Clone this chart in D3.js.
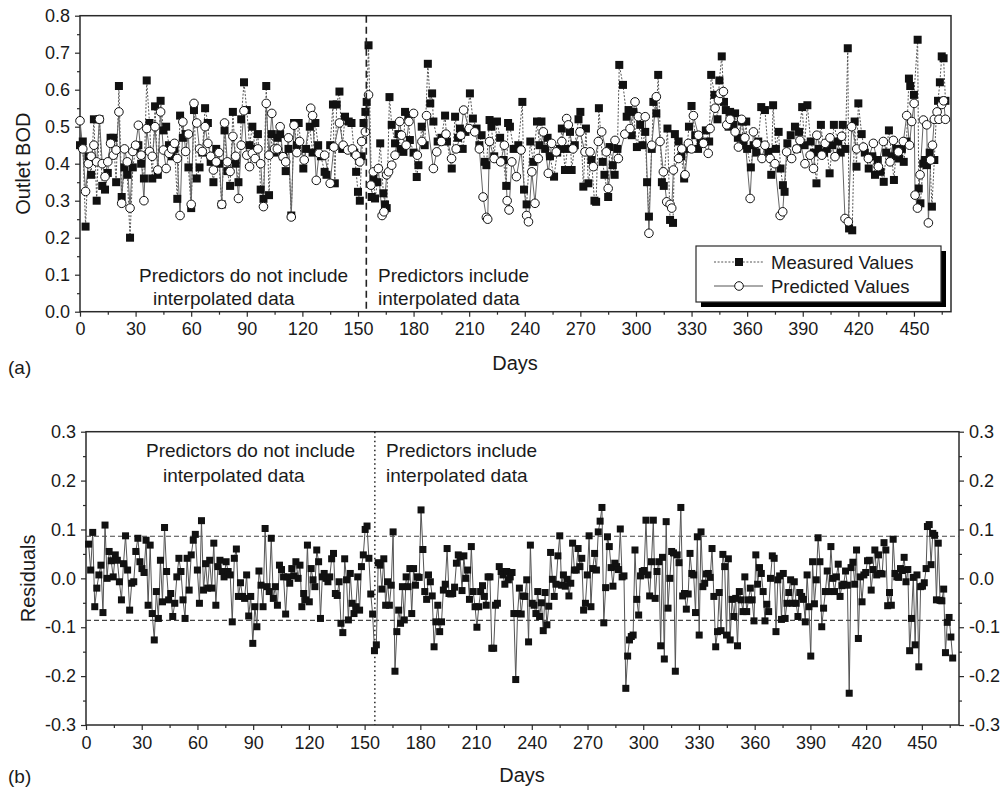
<!DOCTYPE html>
<html>
<head>
<meta charset="utf-8">
<script src="https://cdnjs.cloudflare.com/ajax/libs/d3/7.8.5/d3.min.js"></script>
<style>
  body { margin: 0; background: #fff; }
  text { font-family: "Liberation Sans", Arial, sans-serif; fill: #1a1a1a; }
</style>
</head>
<body>
<svg id="chart" width="1003" height="789"></svg>
<script>
// ---- data ----
// panel (a): [day, outlet BOD]
var measured = [[0,.45],[1.5,.46],[3,.23],[4.5,.42],[6,.37],[7.5,.52],[9,.30],[10.5,.52],[12,.34],[13.5,.33],[15,.375],[16.5,.47],[18,.47],[19.5,.35],[21,.61],[22.5,.31],[24,.39],[25.5,.37],[27,.20],[28.5,.39],[30,.44],[31.5,.45],[33,.40],[34.5,.36],[36,.625],[37.5,.51],[39,.36],[40.5,.555],[42,.37],[43.5,.57],[45,.49],[46.5,.50],[48,.45],[49.5,.42],[51,.44],[52.5,.305],[54,.53],[55.5,.47],[57,.48],[58.5,.39],[60,.28],[61.5,.545],[63,.36],[64.5,.39],[66,.43],[67.5,.55],[69,.51],[70.5,.405],[72,.35],[73.5,.44],[75,.40],[76.5,.29],[78,.49],[79.5,.38],[81,.34],[82.5,.54],[84,.40],[85.5,.35],[87,.52],[88.5,.62],[90,.545],[91.5,.45],[93,.50],[94.5,.44],[96,.48],[97.5,.33],[99,.305],[100.5,.61],[102,.315],[103.5,.48],[105,.43],[106.5,.47],[108,.48],[109.5,.42],[111,.38],[112.5,.44],[114,.26],[115.5,.51],[117,.45],
  [118,.51],[120.5,.387],[122,.44],[124,.50],[125.5,.43],[127,.51],[128.5,.45],[130,.42],[132,.378],[133,.37],[135,.45],[136.5,.56],[137.5,.347],[138.5,.56],[140,.595],[141.5,.44],[143,.527],[145,.514],[146.5,.51],[148,.43],[149,.378],[150,.324],[151,.30],[152,.42],[153,.51],[154,.54],[154.7,.567],[155.7,.72],[157.4,.31],[158.3,.36],[159.2,.306],[160.5,.35],[162,.455],[163.7,.32],[164.6,.29],[165.5,.28],[167,.58],[168.2,.505],[170,.455],[171.8,.48],[173,.44],[174.5,.432],[175.4,.54],[177.2,.53],[178,.464],[180,.43],[181.7,.364],[182.6,.396],[184.4,.50],[186,.45],[187.7,.67],[189,.563],[190,.59],[190.7,.514],[193,.46],[195,.47],[197,.53],[198,.46],[200.6,.387],[202.4,.527],[204,.47],[205,.495],[206.5,.44],[208,.486],[210.4,.59],[212,.522],[214,.495],[215.5,.45],[216.7,.477],[218.4,.405],[219.3,.396],[221,.518],[222,.50],[223.5,.42],[225,.514],[226.7,.47],[228.5,.41],
  [230,.34],[231,.51],[232,.50],[234,.44],[236.5,.45],[238.7,.567],[239.6,.33],[241,.29],[243,.46],[244.6,.405],[246.6,.514],[248,.45],[249,.514],[251,.44],[252.3,.47],[253.6,.42],[255.8,.365],[257.5,.43],[259,.44],[260,.495],[261.7,.383],[263,.44],[264.4,.486],[265.3,.383],[267,.45],[269,.52],[270,.54],[271.6,.338],[273,.495],[274.3,.347],[276,.41],[277.6,.30],[278.5,.297],[280,.55],[282,.405],[283,.37],[285,.31],[285.8,.445],[287.5,.396],[288.5,.37],[290,.44],[291,.667],[293,.613],[295,.527],[296,.545],[297.7,.477],[298.6,.54],[300.5,.445],[302.3,.505],[303.5,.45],[305,.486],[306,.35],[307,.257],[308.5,.44],[309.4,.567],[311,.536],[312,.64],[314,.35],[315,.34],[317,.495],[318.4,.248],[320,.24],[321,.48],[323,.46],[324.5,.42],[326,.36],[327.5,.44],[328.6,.50],[330,.556],[332,.477],[333.5,.44],[335,.46],[337.7,.49],[339.5,.46],[340.6,.64],[342.4,.586],[344,.52],
  [345,.625],[346.3,.69],[347.5,.567],[348.5,.545],[350,.50],[350.8,.54],[352.6,.505],[353.5,.536],[355,.47],[357,.514],[358,.45],[359.5,.514],[360,.44],[362,.39],[363.5,.45],[365,.43],[366,.46],[367.6,.553],[369.6,.545],[371.4,.432],[373,.37],[374,.558],[375.5,.44],[377,.486],[378,.387],[379.3,.342],[380.2,.324],[381.7,.455],[383.5,.477],[385.8,.50],[387,.44],[388,.486],[389.7,.553],[391,.45],[392.5,.558],[394.3,.46],[396,.43],[397.4,.347],[398.5,.44],[399.8,.505],[401.5,.43],[403,.44],[404.5,.374],[406,.45],[406.8,.505],[409,.46],[410.5,.43],[411.6,.505],[413,.44],[414.3,.712],[415,.225],[416.7,.22],[418,.514],[419,.392],[420,.563],[421.8,.48],[423.5,.43],[425.6,.387],[427.5,.42],[429,.37],[430.5,.41],[432,.378],[433.7,.351],[435,.43],[436.5,.49],[438,.42],[439.2,.356],[440.5,.44],[442,.414],[443.5,.44],[444.5,.405],[446,.46],[447.3,.63],[448,.61],[450,.586],[452,.735],[452.6,.333],[453.5,.293],[455,.40],[456,.41],[457,.396],[458.5,.43],[459.7,.284],[461,.41],[462,.52],[463,.57],[464,.62],[465,.69],[466,.685],[467,.57]];

var predicted = [[0,.516],[1.5,.44],[3,.325],[4.5,.40],[6,.42],[7.5,.45],[9,.405],[10.5,.52],[12,.40],[13.5,.365],[15,.405],[16.5,.455],[18,.423],[19.5,.437],[21,.54],[22.5,.293],[24,.44],[25.5,.405],[27,.28],[28.5,.433],[30,.45],[31.5,.504],[33,.423],[34.5,.30],[36,.495],[37.5,.433],[39,.42],[40.5,.50],[42,.383],[43.5,.54],[45,.437],[46.5,.387],[48,.428],[49.5,.44],[51,.455],[52.5,.414],[54,.26],[55.5,.513],[57,.433],[58.5,.48],[60,.29],[61.5,.563],[63,.51],[64.5,.44],[66,.433],[67.5,.50],[69,.455],[70.5,.42],[72,.383],[73.5,.405],[75,.43],[76.5,.29],[78,.51],[79.5,.405],[81,.379],[82.5,.474],[84,.42],[85.5,.306],[87,.45],[88.5,.543],[90,.423],[91.5,.392],[93,.428],[94.5,.414],[96,.44],[97.5,.40],[99,.284],[100.5,.563],[102,.423],[103.5,.536],[105,.44],[106.5,.44],[108,.50],[109.5,.419],[111,.405],[112.5,.47],[114,.256],[115.5,.504],[117,.43],
  [118.5,.46],[121,.41],[124.5,.55],[125.5,.53],[127.5,.355],[129,.428],[132,.423],[135,.347],[137,.445],[140,.51],[142,.45],[144.5,.437],[147,.44],[149,.423],[151,.405],[152,.46],[154,.486],[155.7,.586],[157,.342],[158.3,.378],[161,.387],[163,.26],[164,.27],[165.5,.37],[166.5,.378],[168.2,.396],[170,.423],[172.5,.514],[173.5,.477],[176,.45],[177.5,.514],[180,.536],[182,.423],[184.5,.46],[187,.53],[190.7,.387],[192.5,.432],[195,.46],[197.5,.48],[200.5,.414],[203,.44],[205.5,.477],[207,.545],[210,.495],[213,.486],[215.5,.44],[217.5,.31],[219.3,.255],[220,.25],[221,.46],[223.5,.414],[227,.405],[229,.45],
  [230.5,.30],[231.5,.275],[233,.405],[235.5,.365],[238,.437],[241,.26],[242,.243],[243.8,.378],[245.5,.293],[247.3,.414],[250,.486],[252.7,.374],[254.5,.455],[257,.432],[260,.46],[262.6,.522],[263.5,.505],[266,.44],[269.8,.486],[272.5,.432],[275.2,.432],[277,.392],[279.7,.46],[281.5,.486],[284,.432],[285,.333],[288.7,.463],[290.5,.414],[294,.48],[296.8,.495],[299.5,.567],[301.3,.527],[305,.527],[307,.212],[308.5,.45],[311,.581],[313,.46],[314.8,.378],[316.6,.297],[318.4,.29],[319.3,.28],[320.2,.383],[323,.414],[324.7,.44],[326.5,.37],[328.3,.455],[330,.44],[331,.53],[333.7,.477],[336.4,.455],[339,.428],[340,.495],[342.7,.55],[344.5,.572],
  [345.4,.59],[347.2,.595],[349,.505],[350.8,.52],[353.5,.486],[355.3,.445],[357,.52],[358.8,.47],[361.6,.306],[363.4,.486],[365.2,.455],[368,.414],[369.6,.45],[372.4,.414],[375,.40],[377.8,.26],[379.2,.27],[381.3,.432],[384,.414],[386.7,.44],[388.5,.463],[391.2,.40],[394,.423],[395.8,.387],[397.6,.477],[400.3,.423],[402.1,.455],[404.7,.47],[407.4,.419],[411,.474],[412.8,.252],[414.6,.243],[416.4,.50],[419.1,.44],[422.7,.445],[425.4,.414],[428.1,.455],[430.8,.392],[433.5,.46],[437.1,.405],[438.9,.463],[441.6,.432],[444.3,.46],[446.1,.53],[447.6,.45],[448.8,.514],[450.1,.563],[450.6,.315],[451.9,.28],[453.3,.37],[455.1,.518],[456.9,.505],[457.8,.24],[459,.41],[460,.45],[461,.52],[462.5,.54],[463.5,.52],[465,.56],[466,.57],[467,.52]];

// panel (b): residuals, one list per stretch of days
var residualSpans = [[1.4, 113], [114.2, 226.5], [227.4, 340], [340.9, 452.3], [453, 466.6]];
var residualParts = [
  [.070,.017,.094,-.058,-.020,.007,.027,-.070,.109,.000,.055,.036,.003,.048,.037,-.007,-.044,.030,.087,.017,-.065,-.010,-.007,.055,.082,.034,.020,.012,.078,-.055,.068,-.072,-.126,-.027,-.082,.037,-.048,.104,.014,-.044,-.031,-.078,-.051,.003,.041,.014,-.044,-.082,.041,-.024,.048,.078,.090,.017,-.051,.118,-.024,.030,-.020,.037,-.020,.072,-.055,.024,.037,.014,.003,.034,.014,.007,-.089,.041,.060,-.037,-.009,-.037,-.041,.007,-.077,-.037,-.133,-.058,-.099,.015,-.014,-.058,.102,-.017,-.027,.082,-.041,-.017,-.055,.027,.018,.003,-.073,.003,-.010,.020,.005,.034],
  [.000,.027,-.058,-.031,-.044,.068,-.048,.020,-.003,-.017,.058,.034,-.082,.003,.010,.000,-.007,.003,.040,.051,-.031,-.035,-.007,-.092,-.111,.040,-.003,-.085,.010,-.051,-.072,-.058,.003,-.065,.024,.048,.100,.107,.041,-.032,-.073,-.148,-.136,.032,.027,-.022,.040,-.055,-.007,-.055,-.014,.095,-.190,-.109,-.065,-.092,-.017,-.085,.003,-.017,.020,-.072,.020,-.014,.003,.002,.140,.059,-.027,-.043,.007,-.007,-.036,-.140,-.089,-.055,-.109,-.089,-.024,-.012,.061,-.031,-.032,-.031,-.018,.031,.048,.044,-.025,.046,.000,.017,-.043,.065,-.027,-.058,-.100,-.058,-.027,-.015,-.037,-.055,.003,.003,-.143,-.143,-.055,-.051,.024,.014,.007,-.012,.014],
  [-.003,.003,.012,-.072,-.207,-.072,-.020,-.073,-.036,-.037,-.003,-.130,.068,-.051,-.055,-.072,-.027,-.078,-.050,-.107,-.029,-.095,-.057,.053,-.002,-.037,-.012,.046,.087,-.014,.007,-.016,-.002,-.036,-.010,.072,.017,.017,.061,.024,.041,-.065,-.051,.007,.087,-.058,.020,.051,.017,.095,.117,.145,-.091,-.019,.085,.065,.022,-.016,.031,.024,.018,.101,.003,.005,-.225,-.159,-.126,-.119,-.116,.058,-.043,-.075,.005,.014,.016,.119,.007,-.036,.034,.119,-.041,.014,.034,-.138,.043,-.165,.116,-.061,.000,.055,.052,-.190,.048,.032,.145,-.036,-.031,-.063,-.032,.051,.010,.007,-.070,.085,-.116,.095,-.017,-.010,.009,.010,.002,.061,-.037,-.140,-.109],
  [-.029,-.107,.049,.024,-.116,.040,-.126,-.043,-.078,-.041,-.138,-.027,-.044,-.068,.003,-.068,-.044,-.020,-.044,-.087,.048,-.012,.022,.010,-.027,-.087,-.053,-.068,.000,.046,.041,-.109,-.003,.005,-.084,.010,-.082,-.051,-.029,-.003,-.051,-.007,-.051,-.078,-.029,-.037,-.043,-.089,.007,-.058,-.159,.034,-.052,-.003,.083,.034,-.099,-.061,-.027,.015,-.027,.065,.000,-.027,.003,.029,-.037,-.015,-.012,.015,-.014,-.235,.022,.033,-.012,.058,-.123,.003,-.048,.007,.012,.036,.037,-.024,.018,.058,.007,.048,.010,.009,.073,.058,-.056,-.029,-.055,.080,.010,.003,.002,.020,.016,.043,-.007,.018,-.148,-.082,.002,-.136,.007,-.181,-.017,-.016,-.009,.020],
  [.106,.110,.028,.092,.088,-.044,.072,-.045,-.046,-.022,-.152,-.090,-.080,-.120,-.163]
];

var dayTicks = [0,30,60,90,120,150,180,210,240,270,300,330,360,390,420,450];
var dayMinor = [15,45,75,105,135,165,195,225,255,285,315,345,375,405,435,465];
var bodTicks = [0,0.1,0.2,0.3,0.4,0.5,0.6,0.7,0.8];
var resTicks = [-0.3,-0.2,-0.1,0,0.1,0.2,0.3];
var residualLimits = [-0.086, 0.086];
var splitDayA = 154.5, splitDayB = 155.5;
var legendItems = ["Measured Values", "Predicted Values"];
var noteLeft = ["Predictors do not include", "interpolated data"];
var noteRight = ["Predictors include", "interpolated data"];

var svg = d3.select("#chart");
var axisColor = "#2a2a2a";
var fmt = function(d) { return d.toFixed(1); };

function styleAxis(g) {
  g.select(".domain").remove();
  g.selectAll("line").attr("stroke", axisColor).attr("stroke-width", 1.2);
  g.selectAll("text").attr("font-size", 18).attr("fill", "#1a1a1a")
    .attr("font-family", "'Liberation Sans', Arial, sans-serif");
}

// ---------------- panel (a) ----------------
var xA = d3.scaleLinear().domain([0, 470]).range([80, 951]);
var yA = d3.scaleLinear().domain([0, 0.8]).range([311.7, 15.7]);
var gA = svg.append("g").attr("class", "panel-a");

gA.append("g").attr("transform", "translate(0," + yA(0) + ")")
  .call(d3.axisBottom(xA).tickValues(dayTicks).tickSize(5).tickPadding(6).tickFormat(d3.format("d")))
  .call(styleAxis);
gA.append("g").attr("transform", "translate(0," + yA(0) + ")")
  .call(d3.axisBottom(xA).tickValues(dayMinor).tickSize(3).tickFormat(""))
  .call(styleAxis);
gA.append("g").attr("transform", "translate(" + xA(0) + ",0)")
  .call(d3.axisLeft(yA).tickValues(bodTicks).tickSize(5).tickPadding(5).tickFormat(fmt))
  .call(styleAxis);
gA.append("g").attr("transform", "translate(" + xA(0) + ",0)")
  .call(d3.axisLeft(yA).tickValues(bodTicks.slice(0, 8).map(function(d) { return d + 0.05; })).tickSize(3).tickFormat(""))
  .call(styleAxis);

gA.append("rect")
  .attr("x", xA(0)).attr("y", yA(0.8))
  .attr("width", xA(470) - xA(0)).attr("height", yA(0) - yA(0.8))
  .attr("fill", "none").attr("stroke", axisColor).attr("stroke-width", 1.5);

var lineA = d3.line().x(function(d) { return xA(d[0]); }).y(function(d) { return yA(d[1]); });

gA.append("path").datum(measured)
  .attr("fill", "none").attr("stroke", "#555").attr("stroke-width", 1)
  .attr("stroke-dasharray", "2,1.6").attr("d", lineA);
gA.append("path").datum(predicted)
  .attr("fill", "none").attr("stroke", "#666").attr("stroke-width", 1).attr("d", lineA);

gA.selectAll(".meas").data(measured).enter().append("rect")
  .attr("class", "meas")
  .attr("x", function(d) { return xA(d[0]) - 4; })
  .attr("y", function(d) { return yA(d[1]) - 4; })
  .attr("width", 8).attr("height", 8)
  .attr("fill", "#111");
gA.selectAll(".pred").data(predicted).enter().append("circle")
  .attr("class", "pred")
  .attr("cx", function(d) { return xA(d[0]); })
  .attr("cy", function(d) { return yA(d[1]); })
  .attr("r", 4.3)
  .attr("fill", "#fff").attr("stroke", "#111").attr("stroke-width", 1);

gA.append("line")
  .attr("x1", xA(splitDayA)).attr("x2", xA(splitDayA))
  .attr("y1", yA(0.8)).attr("y2", yA(0))
  .attr("stroke", "#222").attr("stroke-width", 1.6).attr("stroke-dasharray", "7,4");

gA.selectAll(".noteL").data(noteLeft).enter().append("text")
  .attr("x", function(d, i) { return i === 0 ? 139 : 153; })
  .attr("y", function(d, i) { return 282 + 23 * i; })
  .attr("font-size", 19).text(function(d) { return d; });
gA.selectAll(".noteR").data(noteRight).enter().append("text")
  .attr("x", 378)
  .attr("y", function(d, i) { return 282 + 23 * i; })
  .attr("font-size", 19).text(function(d) { return d; });

// legend
var leg = gA.append("g");
leg.append("rect").attr("x", 701).attr("y", 251).attr("width", 245).attr("height", 56).attr("fill", "#000");
leg.append("rect").attr("x", 696).attr("y", 246).attr("width", 245).attr("height", 56)
  .attr("fill", "#fff").attr("stroke", axisColor).attr("stroke-width", 1.2);
legendItems.forEach(function(name, i) {
  var ly = 262 + 24 * i;
  leg.append("line").attr("x1", 714).attr("x2", 763).attr("y1", ly).attr("y2", ly)
    .attr("stroke", "#555").attr("stroke-width", 1)
    .attr("stroke-dasharray", i === 0 ? "2,1.6" : null);
  if (i === 0) {
    leg.append("rect").attr("x", 735).attr("y", ly - 4).attr("width", 8).attr("height", 8).attr("fill", "#111");
  } else {
    leg.append("circle").attr("cx", 739).attr("cy", ly).attr("r", 4.3)
      .attr("fill", "#fff").attr("stroke", "#111");
  }
  leg.append("text").attr("x", 771).attr("y", ly + 6.5).attr("font-size", 18.5).text(name);
});

gA.append("text").attr("transform", "translate(30," + yA(0.4) + ") rotate(-90)")
  .attr("text-anchor", "middle").attr("font-size", 20).text("Outlet BOD");
gA.append("text").attr("x", 515).attr("y", 370).attr("text-anchor", "middle")
  .attr("font-size", 20).text("Days");
gA.append("text").attr("x", 8).attr("y", 374).attr("font-size", 19).text("(a)");

// ---------------- panel (b) ----------------
var xB = d3.scaleLinear().domain([0, 470]).range([86, 959]);
var yB = d3.scaleLinear().domain([-0.3, 0.3]).range([725, 431.7]);
var gB = svg.append("g").attr("class", "panel-b");

var residuals = [];
residualParts.forEach(function(part, k) {
  var span = residualSpans[k];
  part.forEach(function(v, j) {
    residuals.push([span[0] + j * (span[1] - span[0]) / (part.length - 1), v]);
  });
});

var resMinor = resTicks.slice(0, 6).map(function(d) { return d + 0.05; });

gB.append("g").attr("transform", "translate(0," + yB(-0.3) + ")")
  .call(d3.axisBottom(xB).tickValues(dayTicks).tickSize(5).tickPadding(6).tickFormat(d3.format("d")))
  .call(styleAxis);
gB.append("g").attr("transform", "translate(0," + yB(-0.3) + ")")
  .call(d3.axisBottom(xB).tickValues(dayMinor).tickSize(3).tickFormat(""))
  .call(styleAxis);
gB.append("g").attr("transform", "translate(" + xB(0) + ",0)")
  .call(d3.axisLeft(yB).tickValues(resTicks).tickSize(5).tickPadding(5).tickFormat(fmt))
  .call(styleAxis);
gB.append("g").attr("transform", "translate(" + xB(0) + ",0)")
  .call(d3.axisLeft(yB).tickValues(resMinor).tickSize(3).tickFormat(""))
  .call(styleAxis);
gB.append("g").attr("transform", "translate(" + xB(470) + ",0)")
  .call(d3.axisRight(yB).tickValues(resTicks).tickSize(5).tickPadding(5).tickFormat(fmt))
  .call(styleAxis);
gB.append("g").attr("transform", "translate(" + xB(470) + ",0)")
  .call(d3.axisRight(yB).tickValues(resMinor).tickSize(3).tickFormat(""))
  .call(styleAxis);

gB.append("rect")
  .attr("x", xB(0)).attr("y", yB(0.3))
  .attr("width", xB(470) - xB(0)).attr("height", yB(-0.3) - yB(0.3))
  .attr("fill", "none").attr("stroke", axisColor).attr("stroke-width", 1.5);

gB.selectAll(".limit").data(residualLimits).enter().append("line")
  .attr("class", "limit")
  .attr("x1", xB(0)).attr("x2", xB(470))
  .attr("y1", function(d) { return yB(d); }).attr("y2", function(d) { return yB(d); })
  .attr("stroke", "#444").attr("stroke-width", 1.1).attr("stroke-dasharray", "5,3");

gB.append("line")
  .attr("x1", xB(splitDayB)).attr("x2", xB(splitDayB))
  .attr("y1", yB(0.3)).attr("y2", yB(-0.3))
  .attr("stroke", "#222").attr("stroke-width", 1.5).attr("stroke-dasharray", "1.5,3");

var lineB = d3.line().x(function(d) { return xB(d[0]); }).y(function(d) { return yB(d[1]); });
gB.append("path").datum(residuals)
  .attr("fill", "none").attr("stroke", "#555").attr("stroke-width", 1).attr("d", lineB);
gB.selectAll(".res").data(residuals).enter().append("rect")
  .attr("class", "res")
  .attr("x", function(d) { return xB(d[0]) - 3.5; })
  .attr("y", function(d) { return yB(d[1]) - 3.5; })
  .attr("width", 7).attr("height", 7)
  .attr("fill", "#111");

gB.selectAll(".noteL").data(noteLeft).enter().append("text")
  .attr("x", function(d, i) { return i === 0 ? 146 : 163; })
  .attr("y", function(d, i) { return 457 + 25 * i; })
  .attr("font-size", 19).text(function(d) { return d; });
gB.selectAll(".noteR").data(noteRight).enter().append("text")
  .attr("x", 386)
  .attr("y", function(d, i) { return 457 + 25 * i; })
  .attr("font-size", 19).text(function(d) { return d; });

gB.append("text").attr("transform", "translate(35," + yB(0) + ") rotate(-90)")
  .attr("text-anchor", "middle").attr("font-size", 20).text("Residuals");
gB.append("text").attr("x", 522).attr("y", 782).attr("text-anchor", "middle")
  .attr("font-size", 20).text("Days");
gB.append("text").attr("x", 8).attr("y", 783).attr("font-size", 19).text("(b)");
</script>
</body>
</html>
